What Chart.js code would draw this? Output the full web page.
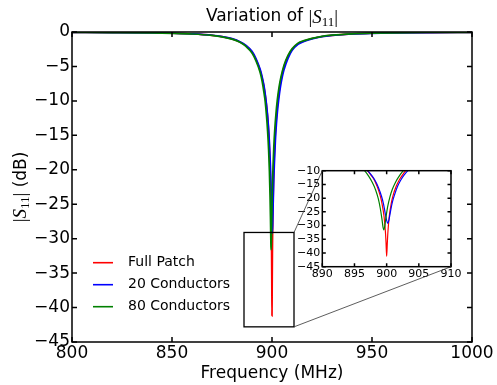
<!DOCTYPE html>
<html>
<head>
<meta charset="utf-8">
<script src="https://cdn.jsdelivr.net/npm/chart.js@4.4.1/dist/chart.umd.min.js"></script>
<style>
  html, body { margin: 0; padding: 0; background: #fff; }
  #wrap { position: relative; width: 497px; height: 385px; }
  #main { position: absolute; left: 0; top: 0; }
  #inset { position: absolute; }
</style>
</head>
<body>
<div id="wrap">
  <canvas id="main" width="497" height="385"></canvas>
  <canvas id="inset" width="190" height="185"></canvas>
</div>
<script>
// ---- values ----
const fullPatchFreq = [800, 820, 840, 850, 860, 870, 875, 880, 884, 887, 890, 892, 894, 895, 896, 897, 897.5, 898, 898.5, 899, 899.3, 899.6, 899.8, 899.9, 900, 900.1, 900.2, 900.4, 900.7, 901, 901.5, 902, 902.5, 903, 904, 905, 906, 908, 910, 913, 916, 920, 925, 930, 940, 950, 960, 980, 1000];
const fullPatchDb   = [-0.05, -0.08, -0.13, -0.18, -0.28, -0.48, -0.68, -1.0, -1.45, -2.0, -2.9, -4.0, -5.5, -6.6, -8.0, -10.0, -11.4, -13.0, -15.6, -19.1, -22.3, -26.8, -32.0, -36.0, -41.2, -36.5, -32.2, -26.8, -22.1, -19.0, -15.6, -13.2, -11.4, -9.9, -7.7, -6.2, -5.05, -3.5, -2.53, -1.7, -1.3, -0.95, -0.65, -0.48, -0.28, -0.18, -0.13, -0.08, -0.05];

const cond20Freq = [800, 820, 840, 850, 860, 870, 875, 880, 884, 887, 890, 892, 894, 895, 896, 897, 897.7, 898.2, 898.7, 899.2, 899.5, 899.8, 900, 900.17, 900.35, 900.6, 900.9, 901.2, 901.7, 902.2, 902.7, 903.3, 904.2, 905.2, 906, 908, 910, 913, 916, 920, 925, 930, 940, 950, 960, 980, 1000];
const cond20Db   = [-0.05, -0.08, -0.13, -0.18, -0.28, -0.47, -0.66, -0.97, -1.4, -1.95, -2.8, -3.85, -5.35, -6.4, -7.8, -9.9, -11.8, -13.6, -16.0, -19.3, -22.0, -25.8, -28.1, -29.2, -28.0, -24.8, -21.4, -19.0, -15.7, -13.4, -11.6, -9.95, -8.0, -6.45, -5.5, -3.85, -2.7, -1.8, -1.38, -1.0, -0.68, -0.5, -0.29, -0.19, -0.14, -0.08, -0.05];

const cond80Freq = [800, 820, 840, 850, 860, 870, 875, 880, 884, 887, 890, 892, 894, 895, 896, 896.6, 897.2, 897.8, 898.3, 898.7, 899, 899.25, 899.45, 899.56, 899.7, 899.9, 900.15, 900.5, 900.9, 901.4, 902, 902.6, 903.5, 904.5, 906, 908, 910, 913, 916, 920, 925, 930, 940, 950, 960, 980, 1000];
const cond80Db   = [-0.05, -0.08, -0.13, -0.19, -0.29, -0.5, -0.7, -1.03, -1.5, -2.1, -3.05, -4.2, -5.8, -7.04, -8.83, -10.1, -12.0, -14.4, -17.1, -20.2, -23.6, -27.3, -30.8, -31.6, -30.3, -26.9, -23.2, -19.6, -16.7, -14.1, -11.8, -10.0, -8.05, -6.5, -4.82, -3.4, -2.45, -1.62, -1.25, -0.92, -0.63, -0.46, -0.27, -0.17, -0.12, -0.07, -0.04];

const xTicks = [800, 850, 900, 950, 1000];
const yTicks = [0, -5, -10, -15, -20, -25, -30, -35, -40, -45];
const insetXTicks = [890, 895, 900, 905, 910];
const insetYTicks = [-10, -15, -20, -25, -30, -35, -40, -45];
const zoomBox = { x0: 886, x1: 911, y0: -42.8, y1: -29.1 };

const RED = '#ff0000', BLUE = '#0000ff', GREEN = '#008000';
const SANS = '"DejaVu Sans", sans-serif';
const SERIF = '"Liberation Serif", "DejaVu Serif", serif';
const INSET_LEFT = 280, INSET_TOP = 160;

/** minus sign like matplotlib */
const fmtTick = v => (v < 0 ? '\u2212' + Math.abs(v) : String(v));

function series(label, freq, db, color, order, width) {
  return {
    label,
    data: freq.map((f, i) => ({ x: f, y: db[i] })),
    borderColor: color,
    borderWidth: width,
    pointRadius: 0,
    fill: false,
    cubicInterpolationMode: 'monotone',
    order,
  };
}

function axisOpts(min, max, ticks, size, pad, fit) {
  return {
    type: 'linear', min, max,
    afterBuildTicks: s => { s.ticks = ticks.map(v => ({ value: v })); },
    afterFit: fit,
    grid: { display: false, drawTicks: false },
    border: { display: false },
    ticks: { color: '#000', font: { family: SANS, size }, padding: pad,
             autoSkip: false, maxRotation: 0, callback: fmtTick },
  };
}

/** axes box with inward ticks on all four sides */
function framePlugin(tickLen, lineW) {
  return {
    id: 'frame',
    afterDatasetsDraw(chart) {
      const { ctx, chartArea: a, scales: { x, y } } = chart;
      ctx.save();
      ctx.strokeStyle = '#000';
      ctx.lineWidth = lineW;
      ctx.beginPath();
      x.ticks.forEach(t => {
        const px = x.getPixelForValue(t.value);
        ctx.moveTo(px, a.bottom); ctx.lineTo(px, a.bottom - tickLen);
        ctx.moveTo(px, a.top); ctx.lineTo(px, a.top + tickLen);
      });
      y.ticks.forEach(t => {
        const py = y.getPixelForValue(t.value);
        ctx.moveTo(a.left, py); ctx.lineTo(a.left + tickLen, py);
        ctx.moveTo(a.right, py); ctx.lineTo(a.right - tickLen, py);
      });
      ctx.stroke();
      ctx.strokeRect(a.left, a.top, a.width, a.height);
      ctx.restore();
    },
  };
}

/** draw text pieces in a row, centred on x */
function drawRich(ctx, parts, x, y) {
  let w = 0;
  parts.forEach(p => { ctx.font = p.font; p.w = ctx.measureText(p.text).width; w += p.w; });
  let cx = x - w / 2;
  parts.forEach(p => {
    ctx.font = p.font;
    ctx.fillText(p.text, cx, y + (p.dy || 0));
    cx += p.w;
  });
}

const mathS11 = [
  { text: '|', font: `19px ${SERIF}`, dy: 2 },
  { text: 'S', font: `italic 19px ${SERIF}`, dy: 2 },
  { text: '11', font: `13px ${SERIF}`, dy: 5 },
  { text: '|', font: `19px ${SERIF}`, dy: 2 },
];

const labelsPlugin = {
  id: 'labels',
  afterDraw(chart) {
    const { ctx, chartArea: a } = chart;
    const cx = (a.left + a.right) / 2;
    ctx.save();
    ctx.fillStyle = '#000';
    ctx.textBaseline = 'alphabetic';
    drawRich(ctx, [{ text: 'Variation of ', font: `17px ${SANS}` }, ...mathS11.map(p => ({ ...p }))], cx, 21);
    drawRich(ctx, [{ text: 'Frequency (MHz)', font: `17px ${SANS}` }], cx, 378);
    ctx.translate(26, (a.top + a.bottom) / 2);
    ctx.rotate(-Math.PI / 2);
    drawRich(ctx, [...mathS11.map(p => ({ ...p, dy: p.dy - 2 })), { text: ' (dB)', font: `17px ${SANS}` }], 0, 0);
    ctx.restore();
  },
};

const legendPlugin = {
  id: 'customLegend',
  afterDraw(chart) {
    const { ctx } = chart;
    ctx.save();
    ctx.font = `14px ${SANS}`;
    ctx.textBaseline = 'middle';
    ctx.fillStyle = '#000';
    chart.data.datasets.forEach((ds, i) => {
      const y = 262.7 + i * 22;
      ctx.strokeStyle = ds.borderColor;
      ctx.lineWidth = 1.6;
      ctx.beginPath(); ctx.moveTo(93, y); ctx.lineTo(113, y); ctx.stroke();
      ctx.fillText(ds.label, 128, y);
    });
    ctx.restore();
  },
};

const zoomBoxPlugin = {
  id: 'zoomBox',
  afterDatasetsDraw(chart) {
    const { ctx, scales: { x, y } } = chart;
    const l = x.getPixelForValue(zoomBox.x0), r = x.getPixelForValue(zoomBox.x1);
    const t = y.getPixelForValue(zoomBox.y1), b = y.getPixelForValue(zoomBox.y0);
    ctx.save();
    ctx.strokeStyle = '#000';
    ctx.lineWidth = 1.3;
    ctx.strokeRect(l, t, r - l, b - t);
    ctx.restore();
  },
};

const mainChart = new Chart(document.getElementById('main'), {
  type: 'line',
  data: {
    datasets: [
      series('Full Patch', fullPatchFreq, fullPatchDb, RED, 3, 1.7),
      series('20 Conductors', cond20Freq, cond20Db, BLUE, 2, 1.7),
      series('80 Conductors', cond80Freq, cond80Db, GREEN, 1, 1.7),
    ],
  },
  options: {
    responsive: false,
    animation: false,
    devicePixelRatio: 1,
    layout: { padding: { left: 0, top: 32, right: 25, bottom: 0 } },
    plugins: { legend: { display: false }, tooltip: { enabled: false }, title: { display: false } },
    scales: {
      x: axisOpts(800, 1000, xTicks, 17, 1, s => { s.height = 43; }),
      y: axisOpts(-45, 0, yTicks, 17, 2, s => { s.width = 72; }),
    },
  },
  plugins: [zoomBoxPlugin, framePlugin(5, 1.5), legendPlugin, labelsPlugin],
});

// ---- inset ----
const insetCanvas = document.getElementById('inset');
insetCanvas.style.left = INSET_LEFT + 'px';
insetCanvas.style.top = INSET_TOP + 'px';

const whiteBg = {
  id: 'whiteBg',
  beforeDatasetsDraw(chart) {
    const { ctx, chartArea: a } = chart;
    ctx.save();
    ctx.fillStyle = '#fff';
    ctx.fillRect(a.left, a.top, a.width, a.height);
    ctx.restore();
  },
};

const connectors = {
  id: 'connectors',
  afterDraw(chart) {
    const { ctx, chartArea: a } = chart;
    const mx = mainChart.scales.x, my = mainChart.scales.y;
    const bx = mx.getPixelForValue(zoomBox.x1) - INSET_LEFT;
    const bt = my.getPixelForValue(zoomBox.y1) - INSET_TOP;
    const bb = my.getPixelForValue(zoomBox.y0) - INSET_TOP;
    ctx.save();
    ctx.strokeStyle = '#333';
    ctx.lineWidth = 0.8;
    ctx.beginPath();
    ctx.moveTo(bx, bt); ctx.lineTo(a.left, a.top);
    ctx.moveTo(bx, bb); ctx.lineTo(a.right, a.bottom);
    ctx.stroke();
    ctx.restore();
  },
};

new Chart(insetCanvas, {
  type: 'line',
  data: {
    datasets: [
      series('Full Patch', fullPatchFreq, fullPatchDb, RED, 3, 1.2),
      series('20 Conductors', cond20Freq, cond20Db, BLUE, 2, 1.2),
      series('80 Conductors', cond80Freq, cond80Db, GREEN, 1, 1.2),
    ],
  },
  options: {
    responsive: false,
    animation: false,
    devicePixelRatio: 1,
    layout: { padding: { left: 0, top: 10.7, right: 19, bottom: 60 } },
    plugins: { legend: { display: false }, tooltip: { enabled: false }, title: { display: false } },
    scales: {
      x: axisOpts(890, 910, insetXTicks, 11, 1, s => { s.height = 18.3; }),
      y: axisOpts(-45, -10, insetYTicks, 11, 2, s => { s.width = 42.3; }),
    },
  },
  plugins: [whiteBg, framePlugin(3.5, 1.5), connectors],
});
</script>
</body>
</html>
